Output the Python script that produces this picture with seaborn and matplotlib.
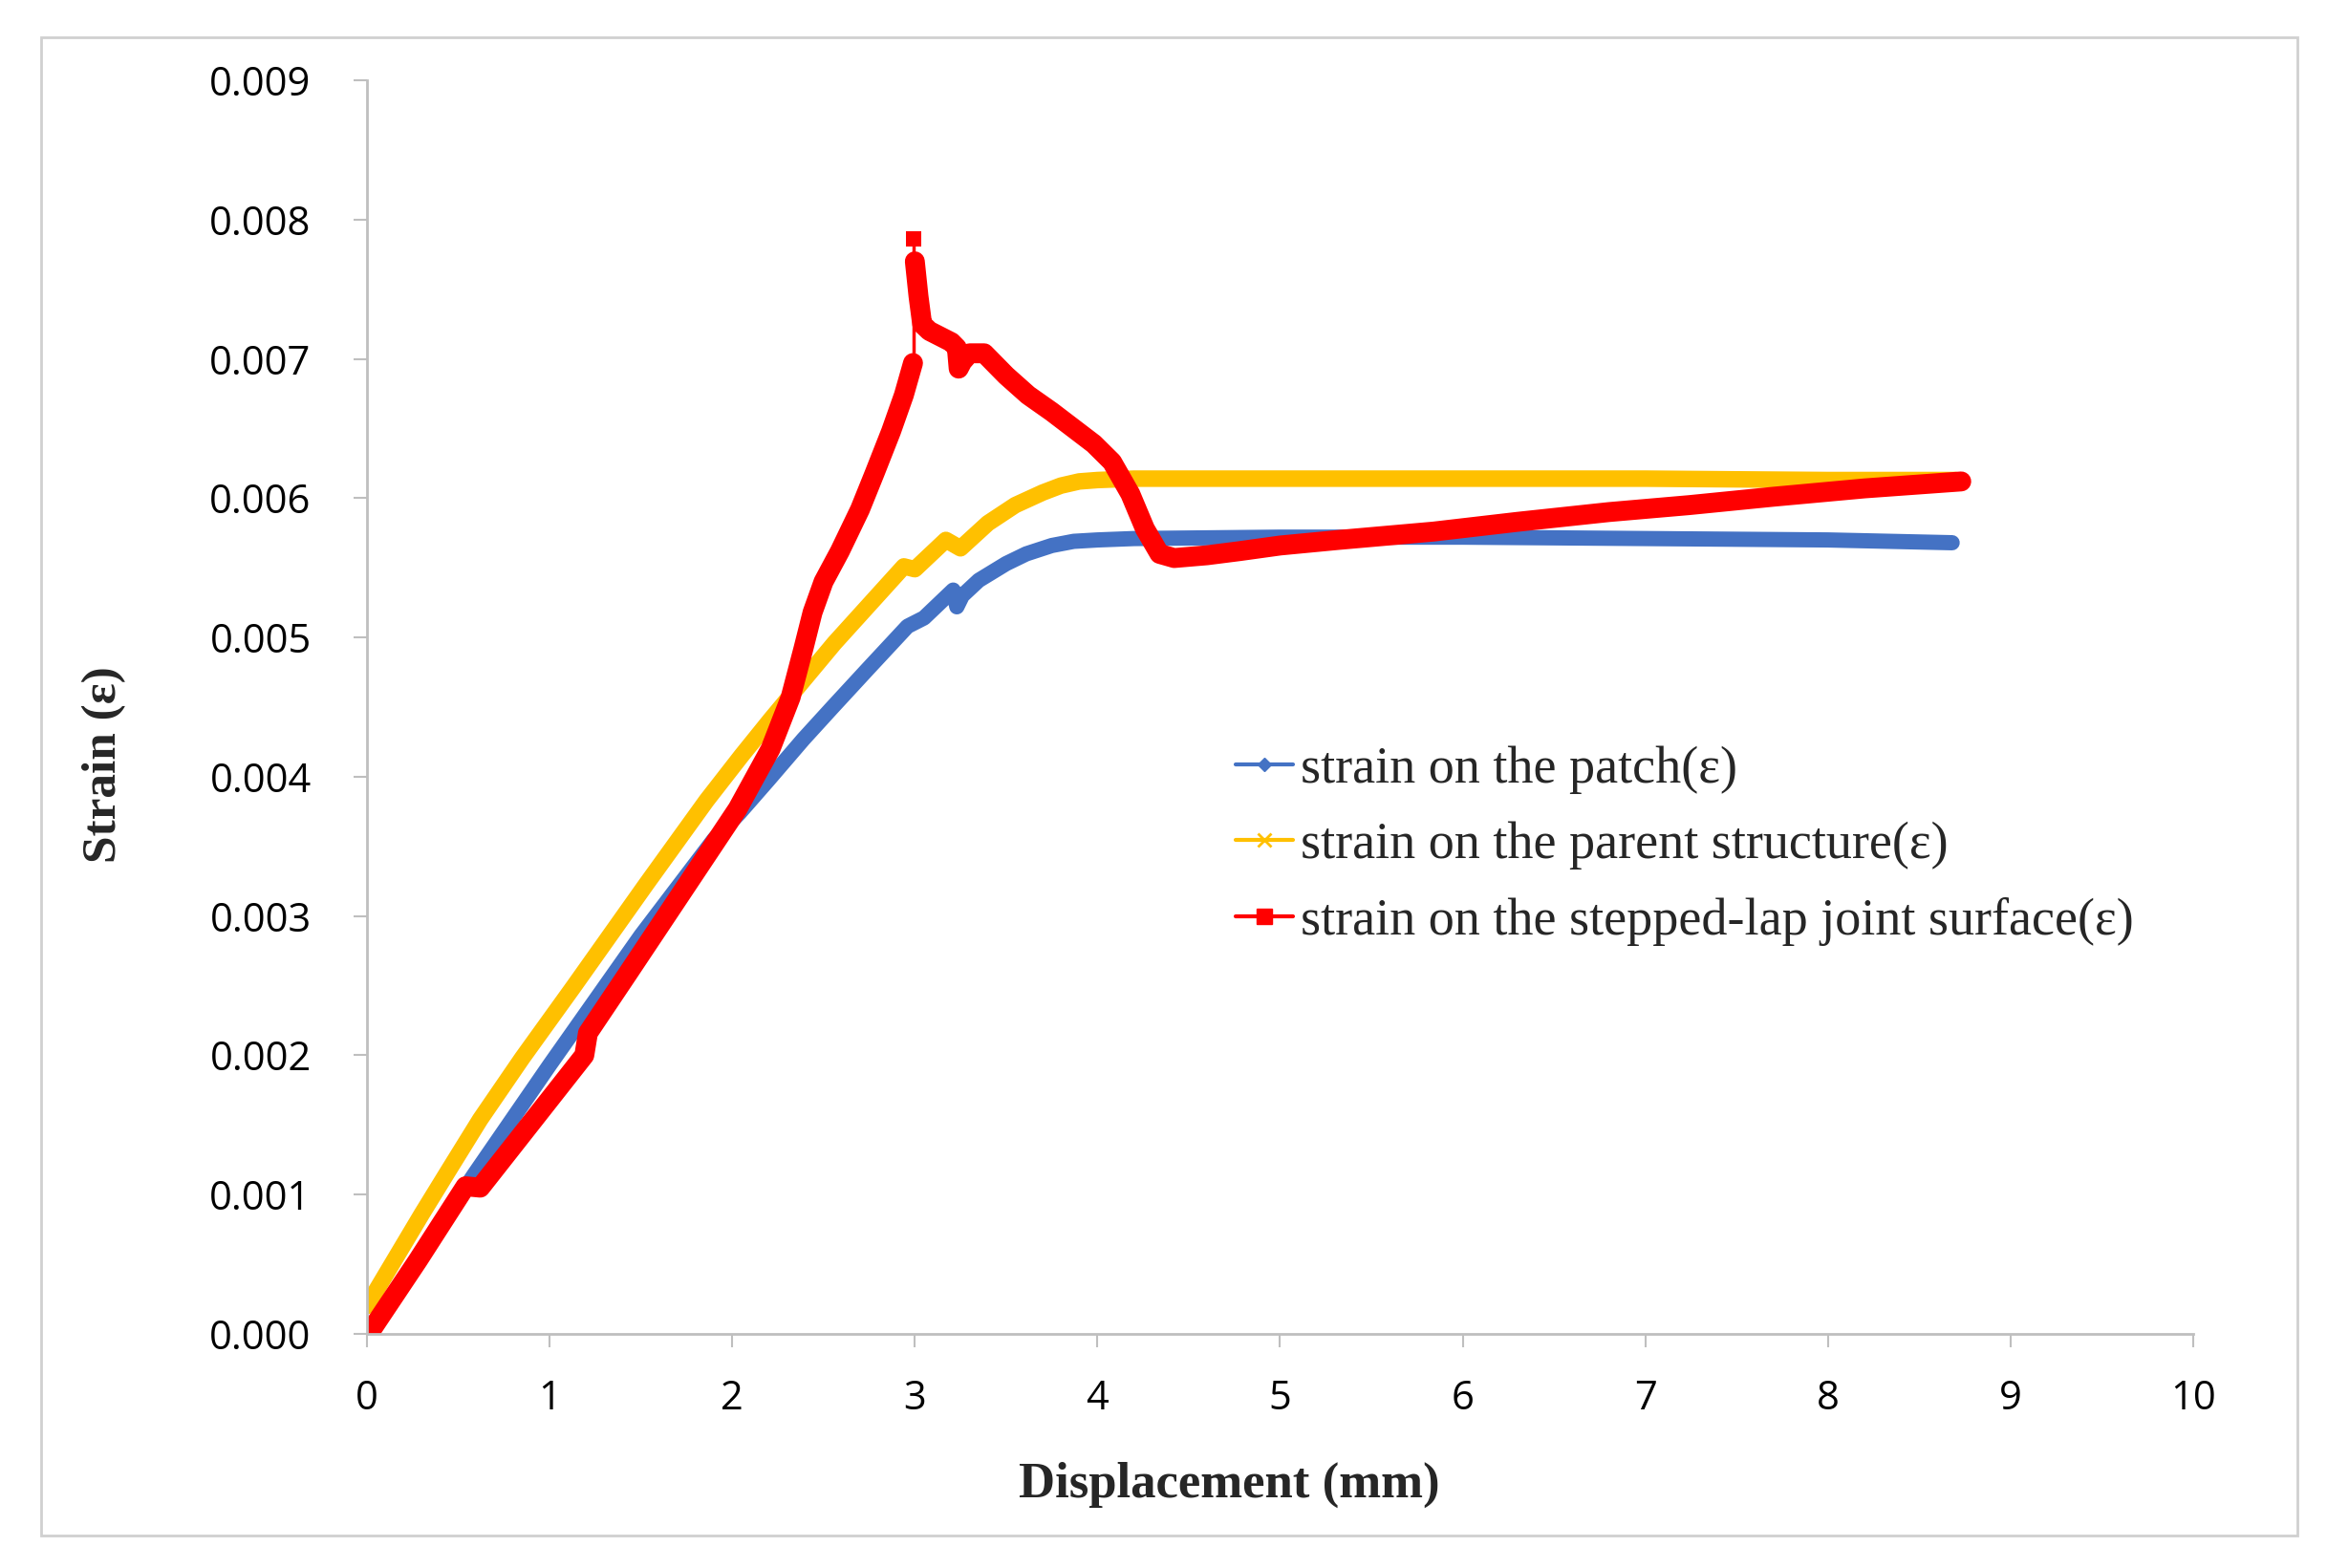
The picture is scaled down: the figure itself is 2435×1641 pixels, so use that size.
import matplotlib
matplotlib.use("Agg")
import matplotlib.pyplot as plt
import seaborn as sns
from matplotlib.lines import Line2D
from matplotlib.patches import Rectangle
from matplotlib.ticker import FormatStrFormatter, MultipleLocator

# strain on the patch (blue)
patch_x = [0.0, 0.3, 0.59, 1.0, 1.5, 1.9, 2.04, 2.2, 2.39, 2.55, 2.74, 2.96, 3.05, 3.21,
           3.23, 3.26, 3.35, 3.5, 3.61, 3.75, 3.87, 4.0, 4.2, 5.0, 6.0, 7.0, 8.0, 8.68]
patch_y = [0.0, 0.00058, 0.00115, 0.00193, 0.00286, 0.00355, 0.00374, 0.00398, 0.00427,
           0.00450, 0.00477, 0.00508, 0.00514, 0.00534, 0.00522, 0.00530, 0.00541,
           0.00553, 0.00560, 0.00566, 0.00569, 0.00570, 0.00571, 0.00572,
           0.00572, 0.00571, 0.00570, 0.00568]

# strain on the parent structure (yellow)
parent_x = [0.0, 0.15, 0.3, 0.45, 0.62, 0.85, 1.13, 1.53, 1.86, 2.05, 2.21, 2.56, 2.94,
            3.0, 3.17, 3.25, 3.4, 3.55, 3.7, 3.8, 3.9, 4.0, 4.2, 5.0, 6.0, 7.0, 8.0, 8.7]
parent_y = [0.00020, 0.00053, 0.00086, 0.00118, 0.00154, 0.00198, 0.00249, 0.00323,
            0.00383, 0.00415, 0.00441, 0.00496, 0.00551, 0.00549, 0.00570, 0.00564,
            0.00582, 0.00595, 0.00604, 0.00609, 0.00612, 0.00613, 0.00614, 0.00614,
            0.00614, 0.00614, 0.00613, 0.00613]

# strain on the stepped-lap joint surface (red): rise, jump to peak, fall
joint_rise_x = [0.02, 0.28, 0.54, 0.62, 0.89, 1.19, 1.21, 1.43, 1.73, 2.03, 2.21,
                2.32, 2.39, 2.44, 2.50, 2.59, 2.70, 2.78, 2.87, 2.94, 2.99]
joint_rise_y = [0.00002, 0.00053, 0.00106, 0.00105, 0.00150, 0.00200, 0.00216, 0.00259,
                0.00318, 0.00377, 0.00420, 0.00457, 0.00492, 0.00518, 0.00540, 0.00562,
                0.00592, 0.00618, 0.00648, 0.00674, 0.00697]
joint_peak_x = [2.995, 2.995]
joint_peak_y = [0.00697, 0.00786]
joint_fall_x = [3.0, 3.02, 3.04, 3.08, 3.14, 3.2, 3.23, 3.24, 3.26, 3.3, 3.38, 3.5,
                3.62, 3.75, 3.88, 3.98, 4.08, 4.18, 4.26, 4.34, 4.42, 4.6, 4.78, 5.0,
                5.32, 5.84, 6.3, 6.8, 7.24, 7.7, 8.2, 8.73]
joint_fall_y = [0.00770, 0.00745, 0.00725, 0.00720, 0.00716, 0.00712, 0.00708, 0.00693,
                0.00698, 0.00704, 0.00704, 0.00688, 0.00674, 0.00662, 0.00649, 0.00639,
                0.00626, 0.00603, 0.00578, 0.00560, 0.00557, 0.00559, 0.00562, 0.00566,
                0.00570, 0.00576, 0.00583, 0.00590, 0.00595, 0.00601, 0.00607, 0.00612]

labels = ["strain on the patch(ε)",
          "strain on the parent structure(ε)",
          "strain on the stepped-lap joint surface(ε)"]
colors = ["#4472C4", "#FFC000", "#FF0000"]

sns.set_theme(style="white")
plt.rcParams['font.family'] = ['Open Sans', 'DejaVu Sans']

fig = plt.figure(figsize=(24.35, 16.41), dpi=100)
ax = fig.add_axes([0.1577, 0.1493, 0.7848, 0.7995])

sns.lineplot(x=patch_x, y=patch_y, sort=False, estimator=None, ax=ax,
             color=colors[0], linewidth=11.5)
sns.lineplot(x=parent_x, y=parent_y, sort=False, estimator=None, ax=ax,
             color=colors[1], linewidth=12.5)
sns.lineplot(x=joint_rise_x, y=joint_rise_y, sort=False, estimator=None, ax=ax,
             color=colors[2], linewidth=15)
sns.lineplot(x=joint_peak_x, y=joint_peak_y, sort=False, estimator=None, ax=ax,
             color=colors[2], linewidth=2.5, marker='s', markevery=[1],
             markersize=12, markeredgewidth=0)
sns.lineplot(x=joint_fall_x, y=joint_fall_y, sort=False, estimator=None, ax=ax,
             color=colors[2], linewidth=15)

ax.set_xlim(0, 10)
ax.set_ylim(0, 0.009)
ax.xaxis.set_major_locator(MultipleLocator(1))
ax.yaxis.set_major_locator(MultipleLocator(0.001))
ax.yaxis.set_major_formatter(FormatStrFormatter('%.3f'))

for side in ['top', 'right']:
    ax.spines[side].set_visible(False)
for side in ['left', 'bottom']:
    ax.spines[side].set_color('#BFBFBF')
    ax.spines[side].set_linewidth(2)

ax.tick_params(axis='both', bottom=True, left=True, direction='out', length=10,
               width=1.5, color='#BFBFBF', labelsize=30, labelcolor='black')
ax.tick_params(axis='x', pad=24)
ax.tick_params(axis='y', pad=32)

ax.set_xlabel('Displacement (mm)', fontfamily='Liberation Serif', fontweight='bold',
              fontsize=38)
ax.set_ylabel('Strain (ε)', fontfamily='Liberation Serif', fontweight='bold',
              fontsize=37)
ax.xaxis.set_label_coords(0.472, -0.102)
ax.yaxis.set_label_coords(-0.132, 0.454)

handles = [
    Line2D([], [], color=colors[0], lw=3, marker='D', markersize=7),
    Line2D([], [], color=colors[1], lw=3, marker='x', markersize=10, markeredgewidth=2),
    Line2D([], [], color=colors[2], lw=3, marker='s', markersize=11),
]
ax.legend(handles=handles, labels=labels, loc='upper left',
          bbox_to_anchor=(0.531, 0.5245), bbox_transform=fig.transFigure,
          frameon=False, prop={'family': 'Liberation Serif', 'size': 39},
          handlelength=1.1, handletextpad=0.15, labelspacing=0.53,
          borderaxespad=0, borderpad=0)

fig.patches.append(Rectangle((0.0177, 0.0207), 0.9696, 0.9555, transform=fig.transFigure,
                             fill=False, edgecolor='#D0D0D0', linewidth=2))

fig.savefig('out.png', dpi=100)
